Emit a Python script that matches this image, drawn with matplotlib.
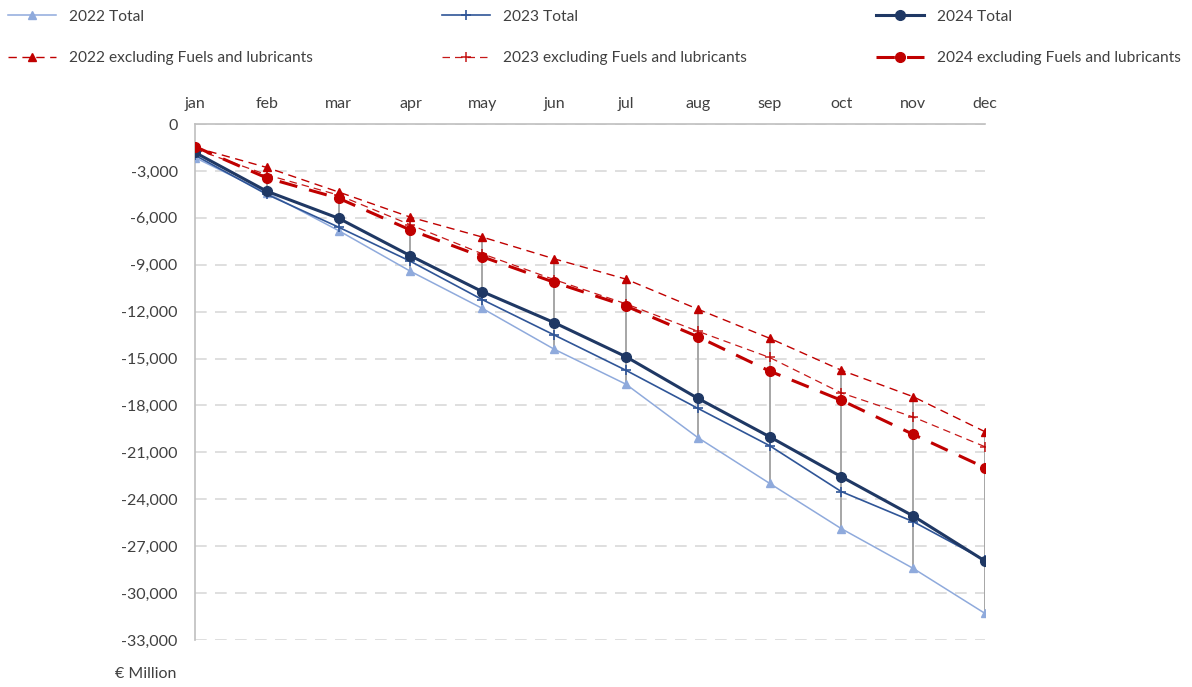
import numpy as np
import matplotlib
matplotlib.use("Agg")
import matplotlib.pyplot as plt

plt.rcParams["font.family"] = ["Lato", "DejaVu Sans"]

months = ["jan", "feb", "mar", "apr", "may", "jun", "jul", "aug", "sep", "oct", "nov", "dec"]

total_2022 = [-2150, -4400, -6820, -9420, -11790, -14400, -16640, -20050, -22980, -25880, -28420, -31300]
total_2023 = [-2000, -4500, -6600, -8780, -11230, -13490, -15750, -18180, -20570, -23510, -25430, -27900]
total_2024 = [-1820, -4300, -6030, -8430, -10720, -12700, -14880, -17540, -20000, -22560, -25070, -27950]
excl_2022 = [-1500, -2780, -4350, -5960, -7230, -8620, -9920, -11840, -13700, -15750, -17440, -19680]
excl_2023 = [-1600, -3250, -4550, -6450, -8300, -9950, -11500, -13250, -14930, -17200, -18740, -20640]
excl_2024 = [-1450, -3450, -4750, -6780, -8490, -10120, -11640, -13600, -15800, -17670, -19850, -21980]

y_ticks = list(range(0, -33001, -3000))
y_unit = "€ Million"

W, H, DPI = 1192, 687, 100
fig = plt.figure(figsize=(W / DPI, H / DPI), dpi=DPI)
ax = fig.add_axes([195 / W, 1 - 640 / H, (985 - 195) / W, (640 - 124) / H])

x = np.arange(len(months))
text_col = "#404040"
grey_axis = "#BFBFBF"

# high-low lines spanning all six series at each month
all_series = np.array([total_2022, total_2023, total_2024, excl_2022, excl_2023, excl_2024])
ax.vlines(x, all_series.min(axis=0), all_series.max(axis=0), colors="#A6A6A6",
          linewidth=1.4, zorder=2)

blue_light = "#8FAADC"
blue_mid = "#2F5597"
blue_dark = "#1F3864"
red = "#C00000"

l1, = ax.plot(x, total_2022, color=blue_light, lw=1.1, marker="^", ms=5.8,
              label="2022 Total", zorder=3)
l2, = ax.plot(x, total_2023, color=blue_mid, lw=1.2, marker="+", ms=7, mew=1.2,
              label="2023 Total", zorder=4)
l3, = ax.plot(x, total_2024, color=blue_dark, lw=2.2, marker="o", ms=7,
              label="2024 Total", zorder=5)
l4, = ax.plot(x, excl_2022, color=red, lw=1.0, ls=(0, (6, 4)), marker="^", ms=5.8,
              label="2022 excluding Fuels and lubricants", zorder=3)
l5, = ax.plot(x, excl_2023, color=red, lw=0.9, ls=(0, (6, 4)), marker="+", ms=7, mew=1.1,
              alpha=0.9, label="2023 excluding Fuels and lubricants", zorder=4)
l6, = ax.plot(x, excl_2024, color=red, lw=2.2, ls=(0, (6, 4)), marker="o", ms=7,
              label="2024 excluding Fuels and lubricants", zorder=5)

ax.set_xlim(0, len(months) - 1)
ax.set_ylim(-33000, 0)
ax.set_yticks(y_ticks)
ax.set_yticklabels([f"{v:,}" for v in y_ticks])
ax.set_xticks(x)
ax.set_xticklabels(months)
ax.xaxis.tick_top()
ax.tick_params(axis="x", length=0, pad=9.5, labelsize=11.5, labelcolor=text_col)
ax.tick_params(axis="y", length=0, pad=12.5, labelsize=11.5, labelcolor=text_col)

ax.grid(axis="y", color="#D9D9D9", lw=1.2, ls=(0, (7, 5)))
ax.set_axisbelow(True)
for side in ("right", "bottom"):
    ax.spines[side].set_visible(False)
ax.spines["left"].set_color(grey_axis)
ax.spines["top"].set_color(grey_axis)
ax.spines["left"].set_linewidth(1.2)
ax.spines["top"].set_linewidth(1.2)

fig.text(115 / W, 1 - 674 / H, y_unit, ha="left", va="center", fontsize=11.5, color=text_col)

handles = [l1, l4, l2, l5, l3, l6]
fig.legend(handles=handles, labels=[h.get_label() for h in handles], ncol=3,
           loc="upper left", bbox_to_anchor=(0 / W, 1 - 2 / H), frameon=False,
           fontsize=11.2, labelcolor=text_col, handlelength=3.1, handletextpad=0.83,
           columnspacing=8.3, labelspacing=1.78, borderpad=0.2, borderaxespad=0.3)

fig.savefig("out.png", dpi=DPI)
